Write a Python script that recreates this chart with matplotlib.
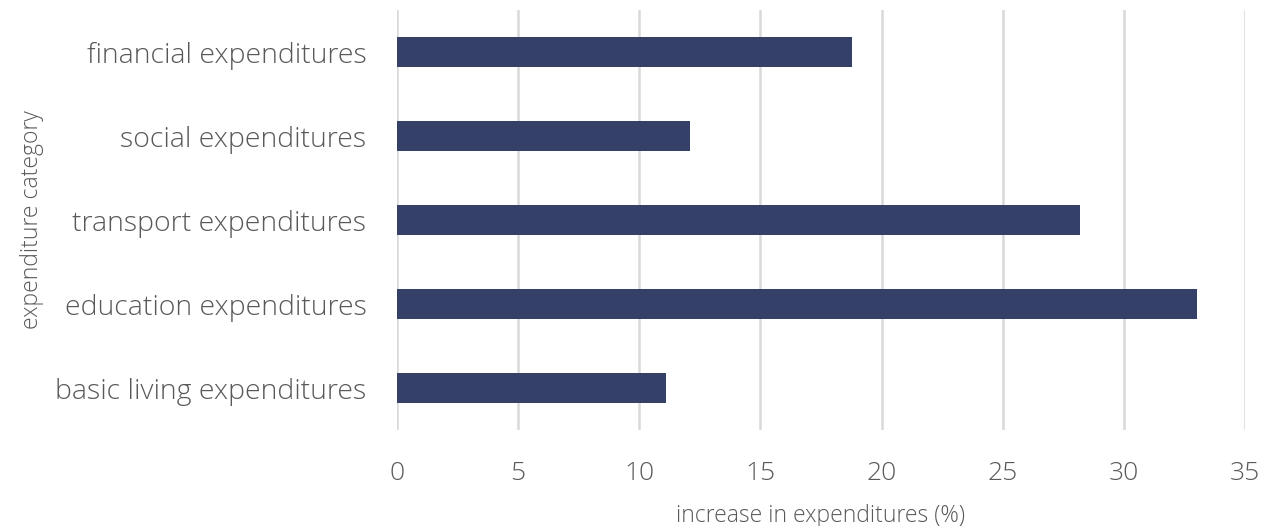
import matplotlib
matplotlib.use("Agg")
import matplotlib.pyplot as plt

categories = ["basic living expenditures", "education expenditures", "transport expenditures",
              "social expenditures", "financial expenditures"]
values = [11.1, 33.0, 28.2, 12.1, 18.8]
xticks = [0, 5, 10, 15, 20, 25, 30, 35]

plt.rcParams['font.family'] = ['Open Sans', 'DejaVu Sans']

fig = plt.figure(figsize=(12.76, 5.26), dpi=100)
ax = fig.add_axes([397/1276, 1 - 430/526, (1245-397)/1276, 420/526])

ypos = list(range(len(categories)))
ax.barh(ypos, values, height=0.36, color="#344067", zorder=3)
ax.set_xlim(0, 35)
ax.set_ylim(-0.5, 4.5)
ax.set_xticks(xticks)
ax.set_xticklabels([str(t) for t in xticks], fontsize=19, color="#595959", fontweight='light')
ax.set_yticks(ypos)
ax.set_yticklabels(categories, fontsize=20.5, color="#595959", fontweight='light')
ax.tick_params(axis='both', length=0)
ax.tick_params(axis='x', pad=22)
ax.tick_params(axis='y', pad=22)
ax.grid(axis='x', color="#d9d9d9", linewidth=1.8, zorder=0)
for s in ax.spines.values():
    s.set_visible(False)
ax.set_xlabel("increase in expenditures (%)", fontsize=16.5, color="#595959",
              fontweight='light', labelpad=13)
ax.set_ylabel("expenditure category", fontsize=16.5, color="#595959", fontweight='light')
ax.yaxis.set_label_coords((44 - 397) / 848, 0.5)

fig.savefig("out.png", dpi=100)
